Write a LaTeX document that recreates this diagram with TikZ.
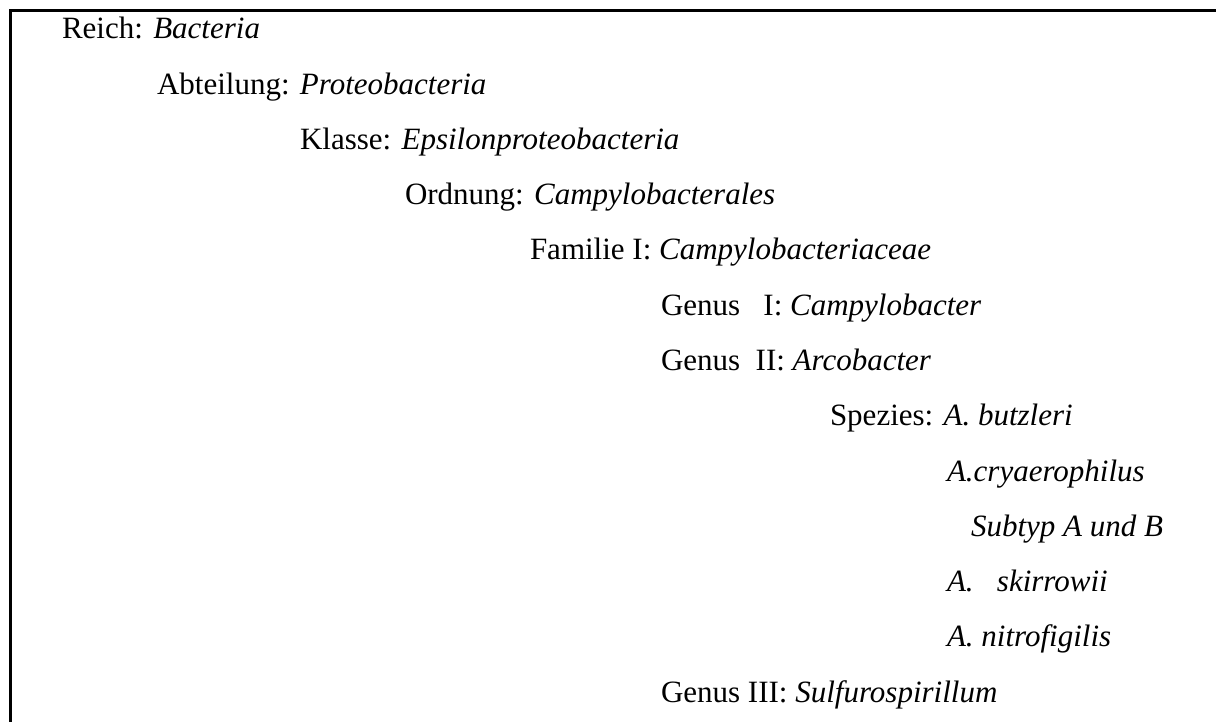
\documentclass[tikz,border=0pt]{standalone}
\usepackage{fontspec}
\setmainfont{Liberation Serif}
\begin{document}
\begin{tikzpicture}[x=1pt,y=-1pt,
  entry/.style={anchor=base west,inner sep=0pt,outer sep=0pt,font=\fontsize{31}{37}\selectfont},
  frame/.style={line width=3pt,line cap=rect}]
\useasboundingbox (0,0) rectangle (1216,722);
\draw[frame] (10,722) -- (10,11) -- (1216,11);
\def\rs{55.25}
\node[entry] (reich) at (62,39) {Reich: \textit{Bacteria}};
\node[entry] (abt) at (157,39+\rs) {Abteilung: \textit{Proteobacteria}};
\node[entry] (kl) at (300,39+2*\rs) {Klasse: \textit{Epsilonproteobacteria}};
\node[entry] (ord) at (405,39+3*\rs) {Ordnung: \textit{Campylobacterales}};
\node[entry] (fam) at (530,39+4*\rs) {Familie I: \textit{Campylobacteriaceae}};
\node[entry] (g1) at (661,39+5*\rs) {Genus\ \ \ I: \textit{Campylobacter}};
\node[entry] (g2) at (661,39+6*\rs) {Genus\ \ II: \textit{Arcobacter}};
\node[entry] (sp) at (830,39+7*\rs) {Spezies: \textit{A. butzleri}};
\node[entry] (cry) at (947,39+8*\rs) {\textit{A.cryaerophilus}};
\node[entry] (sub) at (971,39+9*\rs) {\textit{Subtyp A und B}};
\node[entry] (ski) at (947,39+10*\rs) {\textit{A.\ \ \ skirrowii}};
\node[entry] (nit) at (947,39+11*\rs) {\textit{A. nitrofigilis}};
\node[entry] (g3) at (661,39+12*\rs) {Genus III: \textit{Sulfurospirillum}};
\end{tikzpicture}
\end{document}
